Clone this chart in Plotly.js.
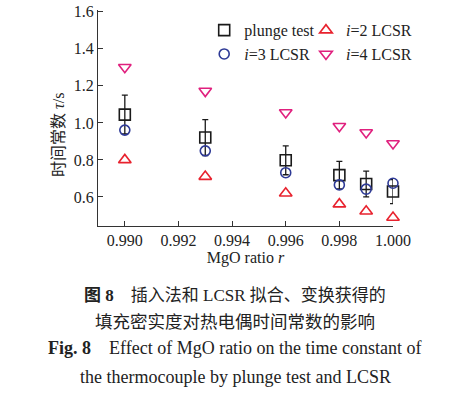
<!DOCTYPE html>
<html>
<head>
<meta charset="utf-8">
<script src="https://cdn.plot.ly/plotly-3.0.1.min.js"></script>
<style>html,body{margin:0;padding:0;background:#fff;}#chart{width:472px;height:394px;}</style>
</head>
<body>
<div id="chart"></div>
<script>
var mgoRatio = [0.990, 0.993, 0.996, 0.998, 0.999, 1.000];
var plungeTest = [1.045, 0.921, 0.798, 0.718, 0.670, 0.629];
var plungeErr = [0.105, 0.097, 0.078, 0.074, 0.070, 0.065];
var lcsrI2 = [0.800, 0.710, 0.620, 0.561, 0.523, 0.489];
var lcsrI3 = [0.961, 0.849, 0.731, 0.665, 0.642, 0.674];
var lcsrI4 = [1.301, 1.172, 1.056, 0.982, 0.948, 0.889];
var xTicks = [0.990, 0.992, 0.994, 0.996, 0.998, 1.000];
var xTickText = ['0.990', '0.992', '0.994', '0.996', '0.998', '1.000'];
var yTicks = [0.6, 0.8, 1.0, 1.2, 1.4, 1.6];
var yTickText = ['0.6', '0.8', '1.0', '1.2', '1.4', '1.6'];

var serif = 'Liberation Serif, Times New Roman, serif';
var cjk = 'Liberation Serif, Noto Sans CJK SC, serif';

var traces = [
  {x: mgoRatio, y: plungeTest, name: 'plunge test', type: 'scatter', mode: 'markers',
   marker: {symbol: 'square-open', size: 11, color: '#1a1a1a', line: {width: 1.6}},
   error_y: {type: 'data', array: plungeErr, visible: true, color: '#1a1a1a', thickness: 1.3, width: 3},
   cliponaxis: false, legend: 'legend'},
  {x: mgoRatio, y: lcsrI3, name: '<i>i</i>=3 LCSR', type: 'scatter', mode: 'markers',
   marker: {symbol: 'circle-open', size: 10, color: '#2e3a96', line: {width: 1.6}},
   cliponaxis: false, legend: 'legend'},
  {x: mgoRatio, y: lcsrI2, name: '<i>i</i>=2 LCSR', type: 'scatter', mode: 'markers',
   marker: {symbol: 'triangle-up-open', size: 11, color: '#e8222e', line: {width: 1.6}},
   cliponaxis: false, legend: 'legend2'},
  {x: mgoRatio, y: lcsrI4, name: '<i>i</i>=4 LCSR', type: 'scatter', mode: 'markers',
   marker: {symbol: 'triangle-down-open', size: 11, color: '#e0207e', line: {width: 1.6}},
   cliponaxis: false, legend: 'legend2'}
];

var H0 = 226, PH = 216; // plot bottom px, plot height px
function py(p) { return (H0 - p) / PH; }
var capX = (235 - 98) / 295;

var layout = {
  width: 472, height: 394,
  margin: {l: 98, r: 79, t: 10, b: 168},
  paper_bgcolor: '#fff', plot_bgcolor: '#fff',
  font: {family: serif, size: 16, color: '#222'},
  showlegend: true,
  xaxis: {
    range: [0.989, 1.000], tickvals: xTicks, ticktext: xTickText,
    ticks: 'inside', ticklen: 5, tickwidth: 1, tickcolor: '#333',
    showline: true, linecolor: '#333', linewidth: 1, showgrid: false, zeroline: false,
    tickfont: {family: serif, size: 16, color: '#222'},
    title: {text: 'MgO ratio <i>r</i>', font: {family: serif, size: 16, color: '#222'}, standoff: 0}
  },
  yaxis: {
    range: [0.443, 1.61], tickvals: yTicks, ticktext: yTickText,
    ticks: 'inside', ticklen: 5, tickwidth: 1, tickcolor: '#333',
    showline: true, linecolor: '#333', linewidth: 1, showgrid: false, zeroline: false,
    tickfont: {family: serif, size: 16, color: '#222'}
  },
  legend: {x: 0.36, y: 0.985, xanchor: 'left', yanchor: 'top', bgcolor: 'rgba(0,0,0,0)',
    font: {family: serif, size: 16, color: '#222'}, tracegroupgap: 0, itemwidth: 30},
  legend2: {x: 0.705, y: 0.985, xanchor: 'left', yanchor: 'top', bgcolor: 'rgba(0,0,0,0)',
    font: {family: serif, size: 16, color: '#222'}, tracegroupgap: 0, itemwidth: 30},
  annotations: [
    {text: '时间常数 <i>τ</i>/s', xref: 'paper', yref: 'paper', x: (58 - 98) / 295, y: py(135),
     xanchor: 'center', yanchor: 'middle', textangle: -90, showarrow: false,
     font: {family: cjk, size: 16, color: '#222'}},
    {text: '<b>图 8</b>&nbsp;&nbsp;&nbsp;&nbsp;插入法和 LCSR 拟合、变换获得的', xref: 'paper', yref: 'paper',
     x: capX, y: py(295), xanchor: 'center', yanchor: 'middle', showarrow: false,
     font: {family: cjk, size: 17, color: '#222'}},
    {text: '填充密实度对热电偶时间常数的影响', xref: 'paper', yref: 'paper',
     x: capX, y: py(322), xanchor: 'center', yanchor: 'middle', showarrow: false,
     font: {family: cjk, size: 17.5, color: '#222'}},
    {text: '<b>Fig. 8</b>&nbsp;&nbsp;&nbsp;&nbsp;Effect of MgO ratio on the time constant of', xref: 'paper', yref: 'paper',
     x: capX, y: py(348), xanchor: 'center', yanchor: 'middle', showarrow: false,
     font: {family: serif, size: 18, color: '#222'}},
    {text: 'the thermocouple by plunge test and LCSR', xref: 'paper', yref: 'paper',
     x: capX, y: py(377), xanchor: 'center', yanchor: 'middle', showarrow: false,
     font: {family: serif, size: 18, color: '#222'}}
  ]
};

Plotly.newPlot('chart', traces, layout, {displayModeBar: false, staticPlot: true});
</script>
</body>
</html>
